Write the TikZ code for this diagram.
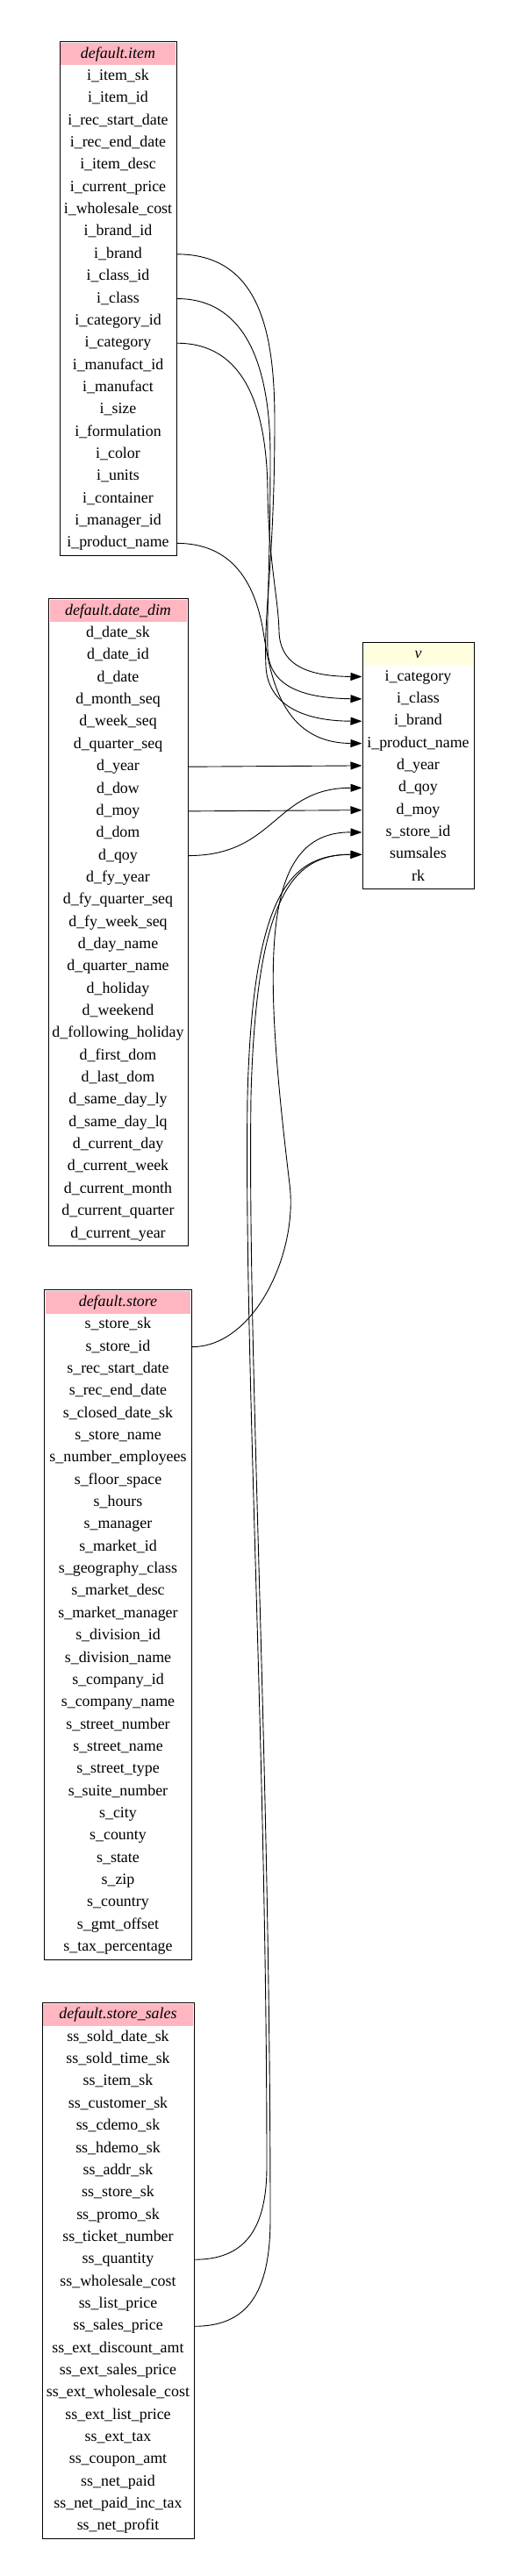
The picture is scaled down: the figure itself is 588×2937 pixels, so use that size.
\documentclass[tikz,border=0pt]{standalone}
\usepackage{fontspec}
\setmainfont{Liberation Serif}
\usetikzlibrary{matrix,positioning,arrows.meta}

\definecolor{hdrpink}{HTML}{FFB6C1}
\definecolor{hdryellow}{HTML}{FFFFE0}
\newcommand\cellfont{\fontsize{17.9}{21}\selectfont}

\begin{document}
\begin{tikzpicture}[x=1pt, y=-1pt,
  tbl/.style={
    matrix of nodes, draw, line width=1pt,
    inner sep=1.5pt, row sep=0pt,
    nodes={inner sep=0pt, minimum height=25.35pt, anchor=center,
      text height=12.6pt, text depth=3.6pt, font=\cellfont},
    row 1/.style={nodes={fill=#1, font=\cellfont\itshape}},
  },
  tbl/.default=hdrpink,
  wide/.style={nodes={minimum width=#1}},
  link/.style={-{Triangle[length=13pt,width=9pt]}, line width=0.9pt},
]
  \useasboundingbox (0,0) rectangle (588,2937);

  \matrix [tbl, wide=130pt, anchor=north] (item) at (134.5,47) {
    default.item \\
    i\_item\_sk \\
    i\_item\_id \\
    i\_rec\_start\_date \\
    i\_rec\_end\_date \\
    i\_item\_desc \\
    i\_current\_price \\
    i\_wholesale\_cost \\
    i\_brand\_id \\
    i\_brand \\
    i\_class\_id \\
    i\_class \\
    i\_category\_id \\
    i\_category \\
    i\_manufact\_id \\
    i\_manufact \\
    i\_size \\
    i\_formulation \\
    i\_color \\
    i\_units \\
    i\_container \\
    i\_manager\_id \\
    i\_product\_name \\
  };

  \matrix [tbl, wide=156pt, below=48pt of item] (date) {
    default.date\_dim \\
    d\_date\_sk \\
    d\_date\_id \\
    d\_date \\
    d\_month\_seq \\
    d\_week\_seq \\
    d\_quarter\_seq \\
    d\_year \\
    d\_dow \\
    d\_moy \\
    d\_dom \\
    d\_qoy \\
    d\_fy\_year \\
    d\_fy\_quarter\_seq \\
    d\_fy\_week\_seq \\
    d\_day\_name \\
    d\_quarter\_name \\
    d\_holiday \\
    d\_weekend \\
    d\_following\_holiday \\
    d\_first\_dom \\
    d\_last\_dom \\
    d\_same\_day\_ly \\
    d\_same\_day\_lq \\
    d\_current\_day \\
    d\_current\_week \\
    d\_current\_month \\
    d\_current\_quarter \\
    d\_current\_year \\
  };

  \matrix [tbl, wide=165pt, below=49pt of date] (store) {
    default.store \\
    s\_store\_sk \\
    s\_store\_id \\
    s\_rec\_start\_date \\
    s\_rec\_end\_date \\
    s\_closed\_date\_sk \\
    s\_store\_name \\
    s\_number\_employees \\
    s\_floor\_space \\
    s\_hours \\
    s\_manager \\
    s\_market\_id \\
    s\_geography\_class \\
    s\_market\_desc \\
    s\_market\_manager \\
    s\_division\_id \\
    s\_division\_name \\
    s\_company\_id \\
    s\_company\_name \\
    s\_street\_number \\
    s\_street\_name \\
    s\_street\_type \\
    s\_suite\_number \\
    s\_city \\
    s\_county \\
    s\_state \\
    s\_zip \\
    s\_country \\
    s\_gmt\_offset \\
    s\_tax\_percentage \\
  };

  \matrix [tbl, wide=170pt, below=48pt of store] (ssales) {
    default.store\_sales \\
    ss\_sold\_date\_sk \\
    ss\_sold\_time\_sk \\
    ss\_item\_sk \\
    ss\_customer\_sk \\
    ss\_cdemo\_sk \\
    ss\_hdemo\_sk \\
    ss\_addr\_sk \\
    ss\_store\_sk \\
    ss\_promo\_sk \\
    ss\_ticket\_number \\
    ss\_quantity \\
    ss\_wholesale\_cost \\
    ss\_list\_price \\
    ss\_sales\_price \\
    ss\_ext\_discount\_amt \\
    ss\_ext\_sales\_price \\
    ss\_ext\_wholesale\_cost \\
    ss\_ext\_list\_price \\
    ss\_ext\_tax \\
    ss\_coupon\_amt \\
    ss\_net\_paid \\
    ss\_net\_paid\_inc\_tax \\
    ss\_net\_profit \\
  };

  \matrix [tbl=hdryellow, wide=124pt, anchor=north] (v) at (476.5,731.5) {
    v \\
    i\_category \\
    i\_class \\
    i\_brand \\
    i\_product\_name \\
    d\_year \\
    d\_qoy \\
    d\_moy \\
    s\_store\_id \\
    sumsales \\
    rk \\
  };

  % item -> v
  \draw[link] (item.east |- item-10-1) .. controls +(95,0) and (313,380) .. (313,480)
    .. controls (313,640) and (300,700) .. (303,760)
    .. controls (305,800) and (340,822) .. (v.west |- v-4-1);
  \draw[link] (item.east |- item-12-1) .. controls +(85,0) and (308,430) .. (308,520)
    .. controls (308,640) and (304,690) .. (305,740)
    .. controls (306,780) and (340,796) .. (v.west |- v-3-1);
  \draw[link] (item.east |- item-14-1) .. controls +(80,0) and (304,470) .. (305,560)
    .. controls (306,640) and (317,680) .. (318,720)
    .. controls (319,755) and (345,771) .. (v.west |- v-2-1);
  \draw[link] (item.east |- item-23-1) .. controls +(60,0) and (290,660) .. (300,720)
    .. controls (308,770) and (320,847) .. (v.west |- v-5-1);

  % date_dim -> v
  \draw[link] (date.east |- date-8-1) -- (v.west |- v-6-1);
  \draw[link] (date.east |- date-10-1) -- (v.west |- v-8-1);
  \draw[link] (date.east |- date-12-1) .. controls +(100,0) and +(-100,0) .. (v.west |- v-7-1);

  % store -> v
  \draw[link] (store.east |- store-3-1) .. controls +(70,0) and (340,1430) .. (330,1350)
    .. controls (300,1100) and (295,948) .. (v.west |- v-9-1);

  % store_sales -> v
  \draw[link] (ssales.east |- ssales-12-1) .. controls +(55,0) and (304,2545) .. (304,2470)
    .. controls (304,2000) and (278,1550) .. (282,1250)
    .. controls (288,1020) and (330,974) .. (v.west |- v-10-1);
  \draw[link] (ssales.east |- ssales-15-1) .. controls +(60,0) and (308,2615) .. (308,2530)
    .. controls (308,2000) and (282,1550) .. (286,1250)
    .. controls (292,1020) and (334,974) .. (v.west |- v-10-1);
\end{tikzpicture}
\end{document}
